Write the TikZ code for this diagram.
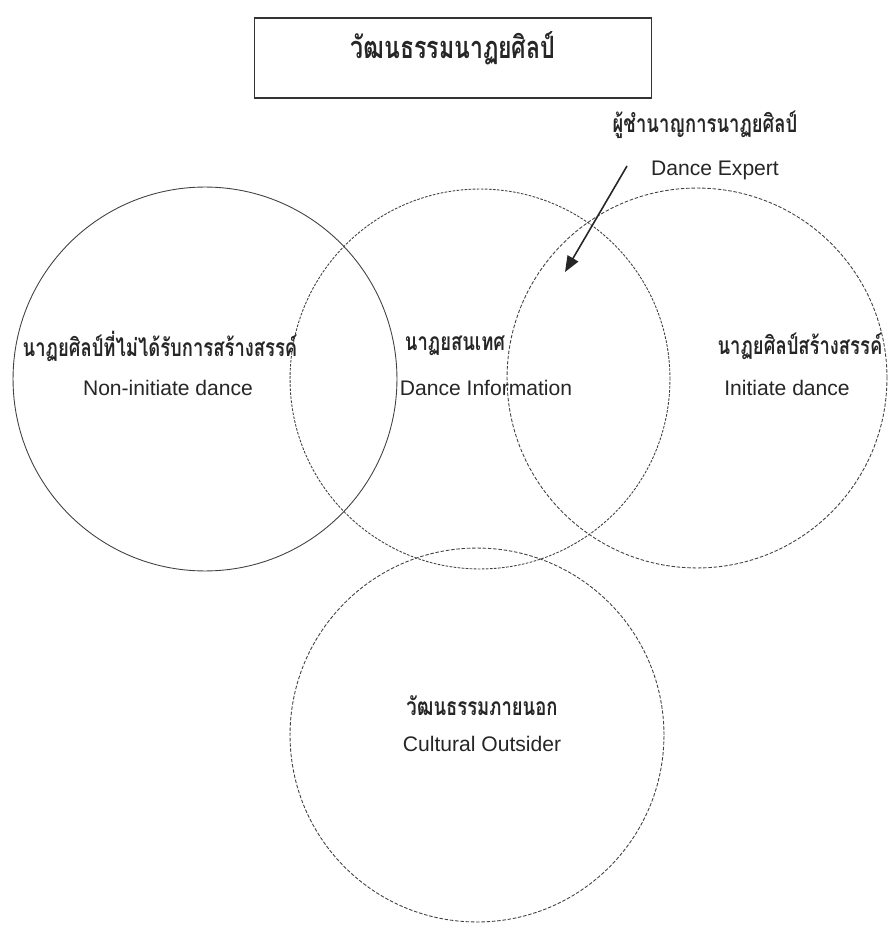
\documentclass[tikz,border=0pt]{standalone}
\usepackage{fontspec}
\setmainfont{Liberation Sans}
\newfontfamily\thaifont[Script=Thai,FakeStretch=0.75]{Loma}
\usetikzlibrary{arrows.meta}

\begin{document}
\begin{tikzpicture}[x=0.02cm,y=-0.02cm,
    every node/.style={inner sep=0pt,text=black!85},
    ring/.style={circle,draw=black!75,line width=0.5pt},
    dashring/.style={ring,dash pattern=on 2pt off 1pt},
    th/.style={font=\fontsize{14}{16}\selectfont\thaifont\bfseries},
    en/.style={font=\fontsize{12}{14}\selectfont}]
    \useasboundingbox (0,0) rectangle (887,925);

    \node (titlebox) [draw=black!80,line width=0.8pt,minimum width=7.94cm,minimum height=1.6cm] at (453,58) {};
    \node (title) [font=\fontsize{17.5}{20}\selectfont\thaifont\bfseries] at (453,48) {วัฒนธรรมนาฏยศิลป์};

    \node (cNon) [ring,minimum size=7.68cm] at (205,379) {};
    \node (cInfo) [dashring,dash pattern=on 1.5pt off 0.8pt,minimum size=7.6cm] at (480,379) {};
    \node (cIni) [dashring,minimum size=7.6cm] at (697,378) {};
    \node (cOut) [dashring,minimum size=7.48cm] at (477,735) {};

    \node (nonTh) [th] at (160,346) {นาฏยศิลป์ที่ไม่ได้รับการสร้างสรรค์};
    \node (nonEn) [en] at (168,388) {Non-initiate dance};
    \node (infoTh) [th] at (455,346) {นาฏยสนเทศ};
    \node (infoEn) [en] at (486,388) {Dance Information};
    \node (iniTh) [th] at (800,346) {นาฏยศิลป์สร้างสรรค์};
    \node (iniEn) [en] at (787,388) {Initiate dance};
    \node (outTh) [th] at (482,706) {วัฒนธรรมภายนอก};
    \node (outEn) [en] at (482,744) {Cultural Outsider};

    \node (expTh) [th] at (705,125) {ผู้ชำนาญการนาฏยศิลป์};
    \node (expEn) [en] at (715,170) {Dance Expert};
    \coordinate (expFrom) at (627,166);
    \coordinate (expTo) at (565,272);
    \draw[-{Triangle[length=9pt,width=7pt]},line width=0.9pt,black!85] (expFrom) -- (expTo);
\end{tikzpicture}
\end{document}
